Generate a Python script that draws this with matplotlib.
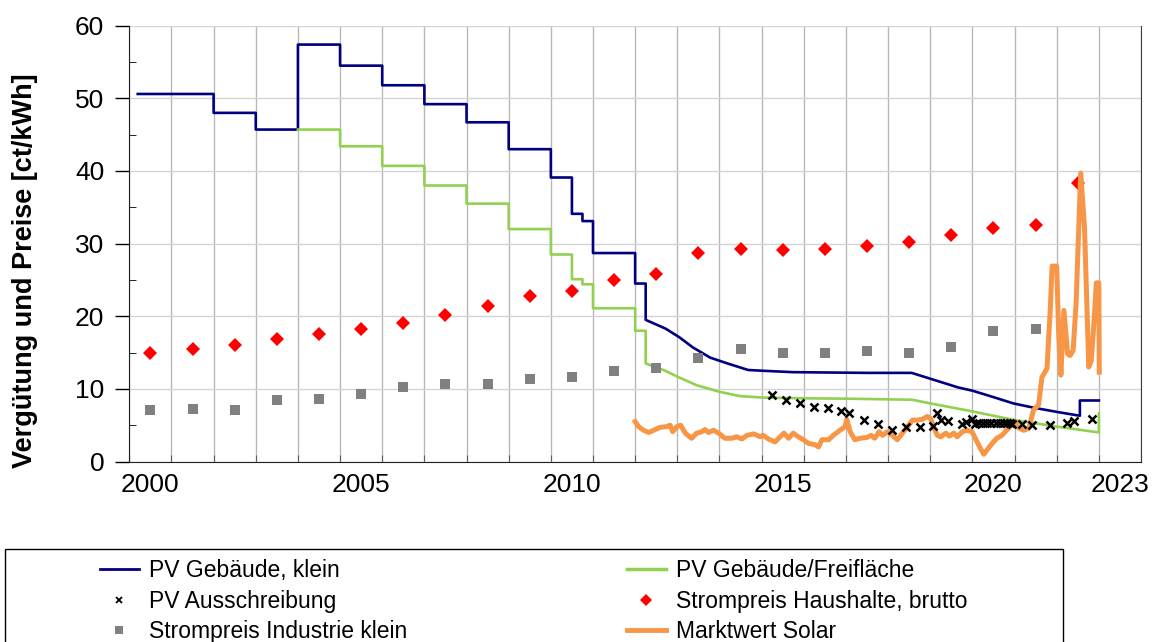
import matplotlib
matplotlib.use("Agg")
import matplotlib.pyplot as plt
from matplotlib.lines import Line2D
from matplotlib.patches import Rectangle

plt.rcParams['font.family'] = ['Liberation Sans', 'DejaVu Sans']

# Annual prices, plotted at the middle of each year band
price_years = list(range(2000, 2023))
strompreis_haushalte = [14.97, 15.5, 16.1, 16.9, 17.6, 18.2, 19.0, 20.2, 21.4, 22.8, 23.5, 25.0,
                        25.8, 28.7, 29.2, 29.1, 29.2, 29.7, 30.2, 31.2, 32.1, 32.5, 38.4]
industrie_years = list(range(2000, 2022))
strompreis_industrie = [7.07, 7.16, 7.07, 8.5, 8.6, 9.3, 10.2, 10.7, 10.7, 11.3, 11.6, 12.5,
                        12.85, 14.3, 15.5, 15.0, 14.9, 15.2, 15.0, 15.8, 18.0, 18.2]

# PV Gebäude, klein: step tariffs, then monthly degression
klein_step_t = [2000.2, 2002, 2003, 2004, 2005, 2006, 2007, 2008, 2009, 2010, 2010.5, 2010.75, 2011, 2012]
klein_step_v = [50.6, 48.0, 45.7, 57.4, 54.5, 51.8, 49.2, 46.7, 43.0, 39.1, 34.1, 33.1, 28.7, 24.5]
klein_curve_t = [2012.25, 2012.72, 2013.05, 2013.37, 2013.78, 2014.19, 2014.68, 2015.0, 2015.74,
                 2017.54, 2018.56, 2019.0, 2019.66, 2020.0, 2020.48, 2020.97, 2021.46, 2022.03,
                 2022.55, 2022.55, 2023.0]
klein_curve_v = [19.5, 18.3, 17.1, 15.7, 14.3, 13.5, 12.6, 12.5, 12.3,
                 12.2, 12.2, 11.4, 10.2, 9.75, 8.9, 8.0, 7.4, 6.8,
                 6.3, 8.4, 8.4]

# PV Gebäude/Freifläche
frei_step_t = [2004, 2005, 2006, 2007, 2008, 2009, 2010, 2010.5, 2010.75, 2011, 2012]
frei_step_v = [45.7, 43.4, 40.7, 38.0, 35.5, 32.0, 28.5, 25.1, 24.4, 21.1, 18.0]
frei_curve_t = [2012.25, 2012.67, 2013.07, 2013.46, 2014.0, 2014.49, 2015.04, 2016.0, 2017.0,
                2018.58, 2019.0, 2020.0, 2021.0, 2022.0, 2023.0, 2023.0]
frei_curve_v = [13.5, 12.6, 11.5, 10.5, 9.6, 9.0, 8.8, 8.7, 8.65,
                8.5, 8.0, 6.9, 5.7, 4.8, 4.0, 6.6]

# PV Ausschreibung (tender results)
ausschreibung_t = [2015.24, 2015.57, 2015.91, 2016.24, 2016.58, 2016.89, 2017.08, 2017.42, 2017.75,
                   2018.09, 2018.42, 2018.75, 2019.07, 2019.17, 2019.26, 2019.42, 2019.76, 2019.84,
                   2019.99, 2020.07, 2020.15, 2020.26, 2020.35, 2020.44, 2020.55, 2020.65, 2020.74,
                   2020.82, 2020.90, 2020.94, 2021.18, 2021.41, 2021.83, 2022.24, 2022.40, 2022.83]
ausschreibung_v = [9.2, 8.5, 8.1, 7.5, 7.3, 7.0, 6.7, 5.7, 5.1,
                   4.4, 4.7, 4.8, 4.9, 6.7, 5.7, 5.6, 5.1, 5.5,
                   5.8, 5.2, 5.3, 5.3, 5.3, 5.3, 5.3, 5.3, 5.3,
                   5.3, 5.3, 5.2, 5.2, 5.0, 5.0, 5.3, 5.6, 5.9]

# Marktwert Solar
solar_t = [2012.00, 2012.08, 2012.20, 2012.32, 2012.44, 2012.59, 2012.75, 2012.83, 2012.89, 2012.99,
           2013.08, 2013.19, 2013.34, 2013.46, 2013.58, 2013.66, 2013.74, 2013.86, 2013.98,
           2014.13, 2014.29, 2014.41, 2014.53, 2014.65, 2014.81, 2014.97,
           2015.04, 2015.16, 2015.32, 2015.44, 2015.53, 2015.64, 2015.75, 2015.87, 2015.99,
           2016.11, 2016.27, 2016.35, 2016.43, 2016.59, 2016.70, 2016.86, 2016.98,
           2017.02, 2017.10, 2017.21, 2017.33, 2017.49, 2017.60, 2017.68, 2017.79, 2017.87, 2017.98,
           2018.10, 2018.22, 2018.34, 2018.46, 2018.58, 2018.69, 2018.81, 2018.93,
           2019.01, 2019.09, 2019.17, 2019.25, 2019.37, 2019.45, 2019.56, 2019.64, 2019.76, 2019.88, 2019.99,
           2020.07, 2020.19, 2020.27, 2020.35, 2020.47, 2020.58, 2020.70, 2020.78, 2020.86, 2020.94,
           2021.02, 2021.10, 2021.22, 2021.34, 2021.39, 2021.45, 2021.57, 2021.65, 2021.77, 2021.85, 2021.89,
           2022.00, 2022.05, 2022.10, 2022.17, 2022.26, 2022.32, 2022.39, 2022.46, 2022.52, 2022.57,
           2022.66, 2022.72, 2022.76, 2022.82, 2022.89, 2022.94, 2023.00, 2023.01]
solar_v = [5.5, 4.8, 4.3, 4.0, 4.3, 4.7, 4.8, 5.0, 4.1, 4.8,
           5.0, 3.9, 3.2, 3.9, 4.1, 4.4, 4.0, 4.3, 3.9,
           3.2, 3.2, 3.4, 3.1, 3.6, 3.8, 3.4,
           3.6, 3.1, 2.7, 3.4, 3.9, 3.2, 3.9, 3.4, 3.0,
           2.5, 2.3, 2.0, 3.0, 3.0, 3.6, 4.3, 4.8,
           5.8, 4.1, 3.0, 3.2, 3.3, 3.6, 3.2, 4.1, 3.6, 4.1,
           3.6, 3.0, 3.9, 4.8, 5.7, 5.7, 5.8, 6.2,
           5.9, 4.6, 3.6, 3.4, 3.9, 3.5, 3.9, 3.4, 4.1, 4.3, 4.1,
           3.2, 1.8, 1.0, 1.6, 2.5, 3.2, 3.6, 4.1, 4.6, 5.3,
           5.5, 4.6, 4.3, 4.6, 5.7, 7.1, 7.8, 11.6, 12.8, 21.2, 26.9,
           26.9, 17.1, 11.9, 20.8, 14.8, 14.6, 15.3, 21.7, 31.7, 39.7,
           32.2, 20.8, 13.0, 13.9, 19.6, 24.6, 24.6, 12.3]

label_years = [2000, 2005, 2010, 2015, 2020, 2023]

BLUE = "#000080"
GREEN = "#92d050"
ORANGE = "#f79646"


def step_path(step_t, step_v, curve_t, curve_v):
    # expand step tariffs into vertices, then continue with the curve
    xs, ys = [], []
    ends = step_t[1:] + [curve_t[0]]
    for t0, t1, v in zip(step_t, ends, step_v):
        xs += [t0, t1]
        ys += [v, v]
    return xs + curve_t, ys + curve_v


fig = plt.figure(figsize=(11.52, 6.42), dpi=100)
ax = fig.add_axes([129.3 / 1152, 1 - 461.5 / 642, (1141 - 129.3) / 1152, (461.5 - 25.7) / 642])

kx, ky = step_path(klein_step_t, klein_step_v, klein_curve_t, klein_curve_v)
fx, fy = step_path(frei_step_t, frei_step_v, frei_curve_t, frei_curve_v)
ax.plot(kx, ky, color=BLUE, lw=1.9, zorder=3)
ax.plot(fx, fy, color=GREEN, lw=1.9, zorder=3)
ax.plot([y + 0.5 for y in industrie_years], strompreis_industrie, "s", color="#808080",
        ms=7, mew=0, zorder=4)
ax.plot([y + 0.5 for y in price_years], strompreis_haushalte, "D", color="#ff0000",
        ms=7.2, mew=0, zorder=4)
ax.plot(solar_t, solar_v, color=ORANGE, lw=3.6, solid_joinstyle="round", zorder=5)
ax.plot(ausschreibung_t, ausschreibung_v, "x", color="black", ms=5.5, mew=1.8, zorder=6)

ax.set_xlim(2000, 2024)
ax.set_ylim(0, 60)
ax.set_xticks(range(2000, 2025))
ax.set_xticklabels([])
ax.set_xticks([y + 0.5 for y in label_years], minor=True)
ax.set_xticklabels([str(y) for y in label_years], minor=True, fontsize=19)
ax.tick_params(axis="x", which="major", direction="in", length=5, color="#606060")
ax.tick_params(axis="x", which="minor", length=0, pad=8)
ax.set_yticks(range(0, 61, 10))
ax.set_yticks(range(5, 60, 10), minor=True)
ax.tick_params(axis="y", which="major", direction="out", length=10, width=1, labelsize=19, pad=8)
ax.tick_params(axis="y", which="minor", direction="in", length=5)

ax.grid(True, axis="x", which="major", color="#b8b8b8", lw=1)
ax.grid(True, axis="y", which="major", color="#d4d4d4", lw=1)
ax.set_axisbelow(True)
ax.spines["top"].set_visible(False)
ax.spines["right"].set_color("#404040")
ax.spines["left"].set_color("#202020")
ax.spines["bottom"].set_color("#202020")

fig.text(25 / 1152, 1 - 271 / 642, "Vergütung und Preise [ct/kWh]", rotation=90,
         fontsize=19.5, fontweight="bold", ha="center", va="center")

# legend box
fig.patches.append(Rectangle((5 / 1152, -0.1), 1058 / 1152, 0.1 + 1 - 549 / 642,
                             transform=fig.transFigure, fill=False, ec="black", lw=1))

left_handles = [Line2D([], [], color=BLUE, lw=2),
                Line2D([], [], ls="none", marker="x", color="black", ms=4, mew=1.3),
                Line2D([], [], ls="none", marker="s", color="#808080", ms=6, mew=0)]
left_labels = ["PV Gebäude, klein", "PV Ausschreibung", "Strompreis Industrie klein"]
right_handles = [Line2D([], [], color=GREEN, lw=2.5),
                 Line2D([], [], ls="none", marker="D", color="#ff0000", ms=6, mew=0),
                 Line2D([], [], color=ORANGE, lw=3.5)]
right_labels = ["PV Gebäude/Freifläche", "Strompreis Haushalte, brutto", "Marktwert Solar"]

legend_kw = dict(loc="upper left", frameon=False, fontsize=16.5, borderpad=0, borderaxespad=0,
                 handlelength=1.7, handletextpad=0.45, labelspacing=0.33)
fig.legend(left_handles, left_labels, bbox_to_anchor=(100 / 1152, 1 - 559 / 642), **legend_kw)
fig.legend(right_handles, right_labels, bbox_to_anchor=(627 / 1152, 1 - 559 / 642), **legend_kw)

fig.savefig("out.png", dpi=100)
